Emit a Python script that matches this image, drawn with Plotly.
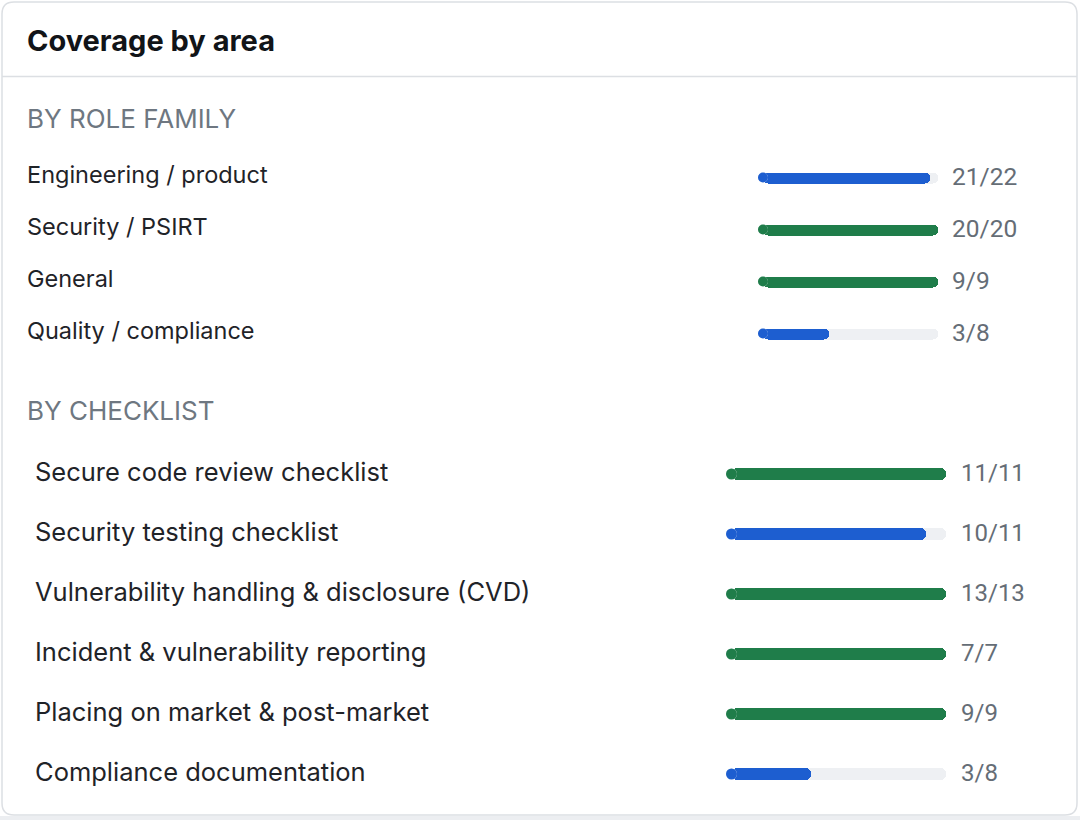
import plotly.graph_objects as go

# ---------------- data ----------------
role_labels = ["Engineering / product", "Security / PSIRT", "General", "Quality / compliance"]
role_done = [21, 20, 9, 3]
role_total = [22, 20, 9, 8]

check_labels = [
    "Secure code review checklist",
    "Security testing checklist",
    "Vulnerability handling & disclosure (CVD)",
    "Incident & vulnerability reporting",
    "Placing on market & post-market",
    "Compliance documentation",
]
check_done = [11, 10, 13, 7, 9, 3]
check_total = [11, 11, 13, 7, 9, 8]

title_text = "Coverage by area"
section_role = "BY ROLE FAMILY"
section_check = "BY CHECKLIST"

# ---------------- style ----------------
W, H = 1080, 820
FONT = "Inter, Roboto, 'Open Sans', sans-serif"
NUMFONT = "Roboto, Inter, sans-serif"
BLUE = "#1d5ed0"
GREEN = "#1f7d4a"
TRACK = "#eef0f3"
TEXT = "#1f2328"
MUTED = "#6e7781"
VALUE = "#656d76"
BORDER = "#dcdfe3"


def px_x(v):
    return v / W


def px_y(v):
    return 1 - v / H


fig = go.Figure()


def add_group(labels, done, total, xa, ya, thick_px, label_x, label_size, value_x, value_size, row_px):
    n = len(labels)
    idx = list(range(n))
    frac = [d / t for d, t in zip(done, total)]
    colors = [GREEN if d >= t else BLUE for d, t in zip(done, total)]
    common = dict(orientation="h", width=thick_px / row_px, marker_cornerradius="50%",
                  xaxis=xa, yaxis=ya, showlegend=False, hoverinfo="skip",
                  marker_line_width=0)
    # track and fill bars (far end rounded via cornerradius)
    fig.add_trace(go.Bar(y=idx, x=[1] * n, base=[0] * n, marker_color=TRACK, **common))
    fig.add_trace(go.Bar(y=idx, x=frac, base=[0] * n, marker_color=colors, **common))
    # round start caps
    cap = dict(mode="markers", xaxis=xa, yaxis=ya, showlegend=False, hoverinfo="skip",
               cliponaxis=False)
    csize = thick_px - 1
    fig.add_trace(go.Scatter(x=[0] * n, y=idx, marker=dict(size=csize, color=TRACK, line_width=0), **cap))
    fig.add_trace(go.Scatter(x=[0] * n, y=idx, marker=dict(size=csize, color=colors, line_width=0), **cap))
    for i, (lab, d, t) in enumerate(zip(labels, done, total)):
        fig.add_annotation(xref="paper", yref=ya, x=px_x(label_x), y=i, text=lab,
                           xanchor="left", yanchor="middle", showarrow=False,
                           font=dict(family=FONT, size=label_size, color=TEXT), yshift=3)
        fig.add_annotation(xref="paper", yref=ya, x=px_x(value_x), y=i, text=f"{d}/{t}",
                           xanchor="left", yanchor="middle", showarrow=False,
                           font=dict(family=NUMFONT, size=value_size, color=VALUE), yshift=1.5)
    return n


# role family group: rows centred at 177.5 .. 333.5 px, pitch 52, bar 11 px thick
n1 = add_group(role_labels, role_done, role_total, "x", "y", 11,
               25, 23.5, 950, 24.5, 52)
# checklist group: rows centred at 474 .. 774 px, pitch 60, bar 12 px thick
n2 = add_group(check_labels, check_done, check_total, "x2", "y2", 12,
               33, 25.5, 959, 24, 60)

cap_r1 = 11 / 2 - 0.5
cap_r2 = 12 / 2 - 0.5
axis_hidden = dict(visible=False, showgrid=False, zeroline=False, fixedrange=True)
fig.update_layout(
    width=W, height=H,
    margin=dict(l=0, r=0, t=0, b=0),
    paper_bgcolor="white", plot_bgcolor="rgba(0,0,0,0)",
    barmode="overlay", bargap=0,
    xaxis=dict(domain=[px_x(758 + cap_r1), px_x(938)], range=[0, 1], anchor="y", **axis_hidden),
    yaxis=dict(domain=[px_y(177.5 + 26 + 52 * (n1 - 1)), px_y(177.5 - 26)],
               range=[n1 - 0.5, -0.5], anchor="x", **axis_hidden),
    xaxis2=dict(domain=[px_x(726 + cap_r2), px_x(946)], range=[0, 1], anchor="y2", **axis_hidden),
    yaxis2=dict(domain=[px_y(474 + 30 + 60 * (n2 - 1)), px_y(474 - 30)],
                range=[n2 - 0.5, -0.5], anchor="x2", **axis_hidden),
)

# card outline (rounded rectangle), bottom shadow strip and header divider
r = 12
x0, x1, y0, y1 = 2, 1077, 2, 815
path = (f"M {px_x(x0 + r)},{px_y(y0)} L {px_x(x1 - r)},{px_y(y0)} "
        f"Q {px_x(x1)},{px_y(y0)} {px_x(x1)},{px_y(y0 + r)} "
        f"L {px_x(x1)},{px_y(y1 - r)} Q {px_x(x1)},{px_y(y1)} {px_x(x1 - r)},{px_y(y1)} "
        f"L {px_x(x0 + r)},{px_y(y1)} Q {px_x(x0)},{px_y(y1)} {px_x(x0)},{px_y(y1 - r)} "
        f"L {px_x(x0)},{px_y(y0 + r)} Q {px_x(x0)},{px_y(y0)} {px_x(x0 + r)},{px_y(y0)} Z")
fig.add_shape(type="rect", xref="paper", yref="paper", x0=0, x1=1, y0=0, y1=px_y(816),
              fillcolor="#eceef1", line_width=0, layer="below")
fig.add_shape(type="path", xref="paper", yref="paper", path=path,
              fillcolor="white", line=dict(color=BORDER, width=1.5), layer="below")
fig.add_shape(type="line", xref="paper", yref="paper", x0=px_x(2), x1=px_x(1077),
              y0=px_y(76.5), y1=px_y(76.5), line=dict(color=BORDER, width=1.5), layer="below")

# title and section headings
fig.add_annotation(xref="paper", yref="paper", x=px_x(25), y=px_y(40), text=f"<b>{title_text}</b>",
                   xanchor="left", yanchor="middle", showarrow=False,
                   font=dict(family=FONT, size=29, color="#111418"))
fig.add_annotation(xref="paper", yref="paper", x=px_x(25), y=px_y(118), text=section_role,
                   xanchor="left", yanchor="middle", showarrow=False,
                   font=dict(family=FONT, size=26, color=MUTED))
fig.add_annotation(xref="paper", yref="paper", x=px_x(25), y=px_y(410), text=section_check,
                   xanchor="left", yanchor="middle", showarrow=False,
                   font=dict(family=FONT, size=26, color=MUTED))

fig.write_html("out.html", config={"displayModeBar": False},
               post_script="document.body.style.margin='0';")
